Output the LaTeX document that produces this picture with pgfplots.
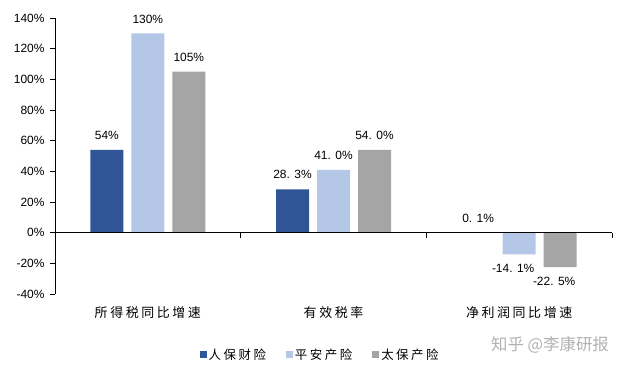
\documentclass[border=0pt]{standalone}
\usepackage{pgfplots}
\pgfplotsset{compat=1.18}
\usepackage{fontspec}
\setmainfont{Liberation Sans}
\newfontfamily\cjk[LetterSpace=20]{Noto Sans CJK SC}
\newfontfamily\cjkw{Noto Sans CJK SC}
\definecolor{c1}{HTML}{2F5597}
\definecolor{c2}{HTML}{B4C7E7}
\definecolor{c3}{HTML}{A5A5A5}
\begin{document}
\begin{tikzpicture}
\useasboundingbox (-55bp,-75bp) rectangle (579bp,294bp);
\begin{axis}[
  at={(0,0)}, anchor=south west,
  scale only axis, width=557bp, height=276bp,
  xmin=-0.5, xmax=2.5, ymin=-40, ymax=140,
  ybar=8bp, bar width=33bp,
  axis x line*=bottom, axis y line*=left,
  x axis line style={draw=none},
  xtick={0,1,2}, xticklabels={所得税同比增速,有效税率,净利润同比增速},
  xtick style={draw=none},
  xticklabel style={font=\cjk\fontsize{13}{15}\selectfont, yshift=-4bp},
  ytick={-40,-20,...,140},
  yticklabel={\pgfmathprintnumber{\tick}\%},
  /pgf/number format/assume math mode=true,
  yticklabel style={font=\fontsize{12}{14}\selectfont, xshift=-2bp},
  tick align=outside, major tick length=5bp,
  y axis line style={black, line width=0.8pt},
  ytick style={black, line width=0.8pt},
  nodes near coords, point meta=explicit symbolic,
  visualization depends on={rawy \as \myy},
  every node near coord/.append style={font=\fontsize{12}{14}\selectfont, inner xsep=0pt, inner ysep=10bp, black,
    anchor=\ifdim\myy pt<0pt north\else south\fi,
    xshift=\ifdim\myy pt<0pt -6bp\else 0bp\fi},
  legend style={at={(0.476,-0.221)}, anchor=center, draw=none, fill=none, legend columns=3,
    font=\cjk\fontsize{12.5}{14}\selectfont,
    nodes={inner xsep=2bp},
    /tikz/every even column/.append style={column sep=18bp}},
  legend image code/.code={\fill[#1, draw=none] (0bp,-3bp) rectangle (7bp,4bp);},
  clip=false,
]
\addplot[fill=c1, draw=none] coordinates {(0,54) [54\%] (1,28.3) [28. 3\%] (2,0.1) [0. 1\%]};
\addplot[fill=c2, draw=none] coordinates {(0,130) [130\%] (1,41.0) [41. 0\%] (2,-14.1) [-14. 1\%]};
\addplot[fill=c3, draw=none] coordinates {(0,105) [105\%] (1,54.0) [54. 0\%] (2,-22.5) [-22. 5\%]};
\legend{人保财险,平安产险,太保产险}
\draw[black, line width=0.8pt] (axis cs:-0.5,0) -- (axis cs:2.5,0);
\draw[black, line width=0.8pt] (axis cs:0.5,0) -- ([yshift=-5bp]axis cs:0.5,0);
\draw[black, line width=0.8pt] (axis cs:1.5,0) -- ([yshift=-5bp]axis cs:1.5,0);
\draw[black, line width=0.8pt] (axis cs:2.5,0) -- ([yshift=-5bp]axis cs:2.5,0);
\end{axis}
\node[text=black!30, font=\cjkw\fontsize{16.5}{18}\selectfont] at (495bp,-51bp) {知乎 @李康研报};
\end{tikzpicture}
\end{document}
